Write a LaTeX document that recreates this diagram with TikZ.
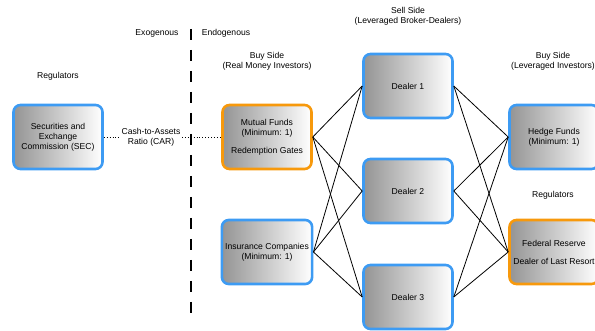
\documentclass[tikz,border=0pt]{standalone}
\usepackage{fontspec}
\setmainfont{Liberation Sans}
\usetikzlibrary{positioning}
\definecolor{boxblue}{HTML}{3D9BF3}
\definecolor{boxorange}{HTML}{F7990C}
\tikzset{every agent/.style={rectangle, rounded corners=7pt, minimum width=89pt,
                                  minimum height=64pt, align=center, line width=2.6pt,
                                  left color=black!42, right color=white},
        bank/.style = {every agent, draw=boxblue},
        regulated/.style = {every agent, draw=boxorange},
        caption/.style = {align=center},
        link/.style = {draw=black, line width=0.8pt},
        }

\begin{document}
\begin{tikzpicture}[x=1pt,y=-1pt,font=\fontsize{8.6}{10}\selectfont]
    \useasboundingbox (0,0) rectangle (595,331);

    % column headings
    \node [caption] (exo) at (157, 33) {Exogenous};
    \node [caption] (endo) at (226, 33) {Endogenous};
    \node [caption] (regsec) at (58, 76) {Regulators};
    \node [caption] (realmoney) at (267, 61) {Buy Side\\(Real Money Investors)};
    \node [caption] (sellside) at (408, 16) {Sell Side\\(Leveraged Broker-Dealers)};
    \node [caption] (leveraged) at (553, 61) {Buy Side\\(Leveraged Investors)};
    \node [caption] (regfed) at (553, 195) {Regulators};

    \draw [line width=1.2pt, dash pattern=on 11pt off 10pt] (191, 29) -- (191, 318);

    % boxes
    \node [bank] (sec) at (58, 137) {Securities and\\Exchange\\Commission (SEC)};
    \node [regulated] (mutual) at (267, 137) {Mutual Funds\\(Minimum: 1)\\[8pt]Redemption Gates};
    \node [bank] (insurance) at (267, 252) {Insurance Companies\\(Minimum: 1)};

    \node [bank] (dealerA) at (408, 86) {Dealer 1};
    \node [bank] (dealerB) at (408, 191) {Dealer 2};
    \node [bank] (dealerC) at (408, 297) {Dealer 3};

    \node [bank] (hedge) at (554, 137) {Hedge Funds\\(Minimum: 1)};
    \node [regulated] (fed) at (554, 252) {Federal Reserve\\[8pt]Dealer of Last Resort};

    % cash-to-assets ratio
    \node [caption, inner sep=1.5pt] (car) at (151, 137) {Cash-to-Assets\\Ratio (CAR)};
    \draw [dotted, line width=0.9pt] (sec) -- (car) -- (mutual);

    % trading links
    \foreach \d in {dealerA, dealerB, dealerC} {
        \draw [link] (mutual.east) -- (\d.west);
        \draw [link] (insurance.east) -- (\d.west);
        \draw [link] (hedge.west) -- (\d.east);
        \draw [link] (fed.west) -- (\d.east);
    }

\end{tikzpicture}
\end{document}
